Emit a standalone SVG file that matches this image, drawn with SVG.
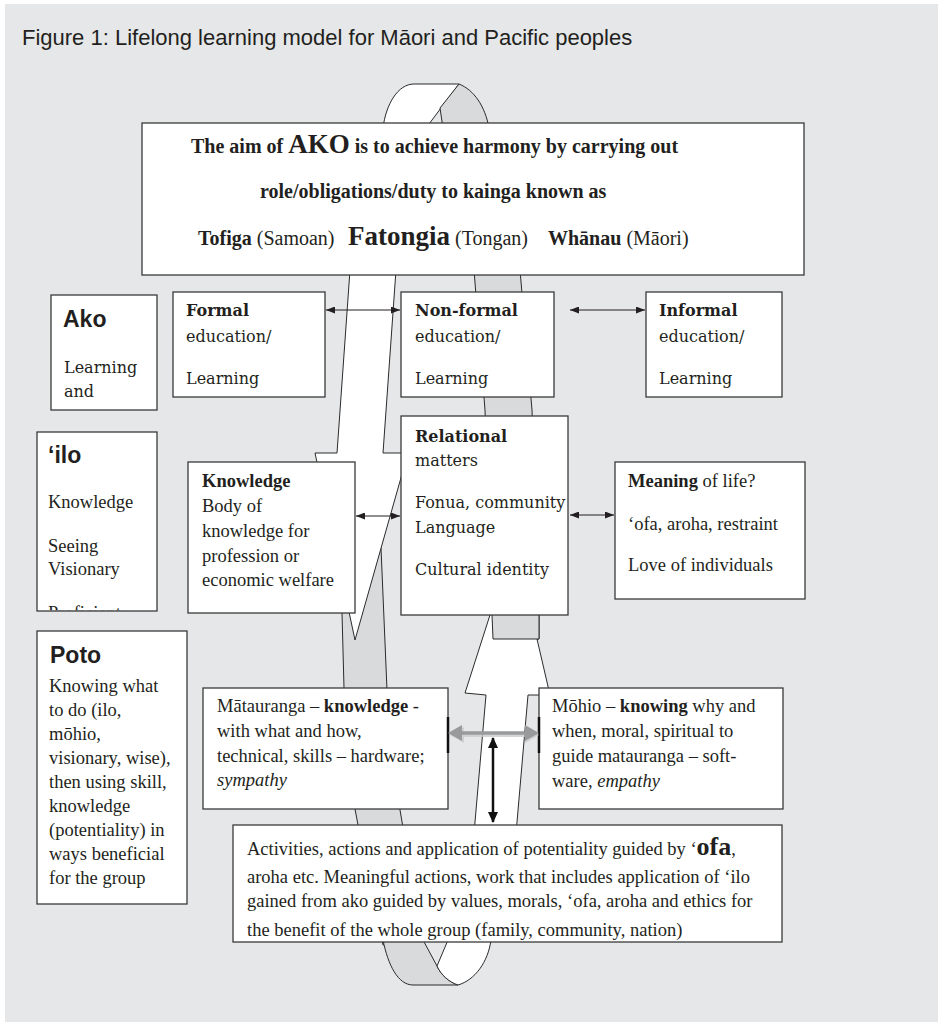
<svg xmlns="http://www.w3.org/2000/svg" width="944" height="1026" viewBox="0 0 944 1026">
<defs>
<style>
.bg{fill:#e6e7e8}
.box{fill:#fff;stroke:#3a3a3a;stroke-width:1.3}
.rw{fill:#fff;stroke:#2b2b2b;stroke-width:1}
.rg{fill:#d9dadc;stroke:#2b2b2b;stroke-width:1}
.t{font-family:"Liberation Serif","Times New Roman",serif;font-size:18.5px;fill:#231f20}
.tb{font-family:"Liberation Serif","Times New Roman",serif;font-weight:bold;font-size:20px;fill:#231f20}
.c{font-family:"DejaVu Serif",serif;font-size:16px;fill:#231f20}
.s{font-family:"Liberation Sans",Arial,sans-serif;font-weight:bold;font-size:23px;fill:#231f20}
.b{font-weight:bold}
.i{font-style:italic}
.con{stroke:#231f20;stroke-width:1.2;fill:none}
</style>
<marker id="ah" viewBox="0 0 9 7" refX="9" refY="3.5" markerWidth="9" markerHeight="7" markerUnits="userSpaceOnUse" orient="auto-start-reverse"><path d="M0,0 L9,3.5 L0,7 Z" fill="#231f20"/></marker>
<marker id="ahb" viewBox="0 0 11 10" refX="10" refY="5" markerWidth="11" markerHeight="10" markerUnits="userSpaceOnUse" orient="auto-start-reverse"><path d="M0,0 L11,5 L0,10 Z" fill="#111"/></marker>
<clipPath id="actclip"><rect x="233" y="825" width="549" height="117"/></clipPath>
<clipPath id="iloclip"><rect x="37" y="432" width="120" height="178.3"/></clipPath>
</defs>

<rect class="bg" x="5" y="4" width="933" height="1018"/>
<text x="22" y="45" font-family="'Liberation Sans',Arial,sans-serif" font-size="22" fill="#231f20">Figure 1: Lifelong learning model for Māori and Pacific peoples</text>

<g id="ribbon">
<path class="rw" d="M383,128 C386,104 398,84 414,84 L459,84 L426,128 Z"/>
<path class="rg" d="M459,84 C474,90 485,106 489,128 L443,128 L440,108 Z"/>
<path class="rg" d="M474,270 L520,270 L532,410 L539,615 L539,639 L493,639 L492,615 L485,410 Z"/>
<path class="rg" d="M338,548 L381,548 L387,690 L400,810 L423,945 L383,945 L358,825 L355,809 L344,688 L342,613 Z"/>
<path class="rw" d="M350,270 L337,453 L315,453 L355,640 L408,453 L383,453 L396,270 Z"/>
<path class="rw" d="M514,540 L465,693 L486,695 L475,822 L466,930 L506,930 L517,822 L528,695 L550,695 Z"/>
<path class="rg" d="M497,560 L539,560 L539,639 L493,639 L492,615 Z" style="stroke:none"/>
<path class="con" style="stroke:#2b2b2b;stroke-width:1" d="M539,600 L539,639 L493,639 L492,615"/>
<path class="rg" d="M383,940 C388,965 398,985 413,985 L458,985 C449,982 441,975 437,966 L423,940 Z"/>
<path class="rw" d="M448,940 L437,966 C441,975 449,982 458,985 C475,980 488,962 491,940 Z"/>
</g>

<g id="top">
<rect class="box" x="142" y="123" width="662" height="152"/>
<text class="tb" x="191" y="153">The aim of <tspan font-size="27">AKO</tspan> is to achieve harmony by carrying out</text>
<text class="tb" x="260" y="198">role/obligations/duty to kainga known as</text>
<text class="tb" y="245"><tspan x="198">Tofiga</tspan><tspan font-weight="normal"> (Samoan)</tspan><tspan x="348" font-size="27">Fatongia</tspan><tspan font-weight="normal"> (Tongan)</tspan><tspan x="548">Whānau</tspan><tspan font-weight="normal"> (Māori)</tspan></text>
</g>

<g id="ako">
<rect class="box" x="51" y="295" width="106" height="115"/>
<text class="s" x="63" y="327">Ako</text>
<text class="c" x="64" y="373">Learning</text>
<text class="c" x="64" y="397">and</text>
</g>

<g id="formal">
<rect class="box" x="173" y="292" width="152" height="105"/>
<text class="c b" x="186" y="316">Formal</text>
<text class="c" x="186" y="342">education/</text>
<text class="c" x="186" y="384">Learning</text>
</g>

<g id="nonformal">
<rect class="box" x="401" y="292" width="153" height="105"/>
<text class="c b" x="415" y="316">Non-formal</text>
<text class="c" x="415" y="342">education/</text>
<text class="c" x="415" y="384">Learning</text>
</g>

<g id="informal">
<rect class="box" x="646" y="292" width="136" height="105"/>
<text class="c b" x="659" y="316">Informal</text>
<text class="c" x="659" y="342">education/</text>
<text class="c" x="659" y="384">Learning</text>
</g>

<g id="ilo">
<rect class="box" x="37" y="432" width="120" height="179"/>
<text class="s" x="48" y="463">‘ilo</text>
<text class="t" x="48" y="508">Knowledge</text>
<text class="t" x="48" y="552">Seeing</text>
<text class="t" x="48" y="575">Visionary</text>
<text class="t" x="48" y="619" clip-path="url(#iloclip)">Proficient</text>
</g>

<g id="knowledge">
<rect class="box" x="188" y="462" width="167" height="151"/>
<text class="t b" x="202" y="487">Knowledge</text>
<text class="t" x="202" y="512">Body of</text>
<text class="t" x="202" y="537">knowledge for</text>
<text class="t" x="202" y="562">profession or</text>
<text class="t" x="202" y="586">economic welfare</text>
</g>

<g id="relational">
<rect class="box" x="401" y="416" width="167" height="199"/>
<text class="c b" x="415" y="442">Relational</text>
<text class="c" x="415" y="466">matters</text>
<text class="c" x="415" y="508">Fonua, community</text>
<text class="c" x="415" y="533">Language</text>
<text class="c" x="415" y="575">Cultural identity</text>
</g>

<g id="meaning">
<rect class="box" x="615" y="462" width="190" height="137"/>
<text class="t" x="628" y="487"><tspan class="b">Meaning</tspan> of life?</text>
<text class="t" x="628" y="530">‘ofa, aroha, restraint</text>
<text class="t" x="628" y="571">Love of individuals</text>
</g>

<g id="poto">
<rect class="box" x="37" y="631" width="150" height="273"/>
<text class="s" x="50" y="663">Poto</text>
<text class="t" x="49" y="692">Knowing what</text>
<text class="t" x="49" y="716">to do (ilo,</text>
<text class="t" x="49" y="740">mōhio,</text>
<text class="t" x="49" y="764">visionary, wise),</text>
<text class="t" x="49" y="788">then using skill,</text>
<text class="t" x="49" y="812">knowledge</text>
<text class="t" x="49" y="836">(potentiality) in</text>
<text class="t" x="49" y="860">ways beneficial</text>
<text class="t" x="49" y="884">for the group</text>
</g>

<g id="matauranga">
<rect class="box" x="203" y="688" width="245" height="121"/>
<text class="t" x="217" y="712">Mātauranga – <tspan class="b">knowledge</tspan> -</text>
<text class="t" x="217" y="737">with what and how,</text>
<text class="t" x="217" y="762">technical, skills – hardware;</text>
<text class="t i" x="217" y="786">sympathy</text>
<line x1="448" y1="717" x2="448" y2="753" stroke="#111" stroke-width="2.5"/>
</g>

<g id="mohio">
<rect class="box" x="539" y="688" width="244" height="121"/>
<text class="t" x="552" y="712">Mōhio – <tspan class="b">knowing</tspan> why and</text>
<text class="t" x="552" y="737">when, moral, spiritual to</text>
<text class="t" x="552" y="762">guide matauranga – soft-</text>
<text class="t" x="552" y="787">ware, <tspan class="i">empathy</tspan></text>
<line x1="539" y1="717" x2="539" y2="753" stroke="#111" stroke-width="2.5"/>
</g>

<g id="activities">
<rect class="box" x="233" y="825" width="549" height="117"/>
<g clip-path="url(#actclip)">
<text class="t" x="247" y="855">Activities, actions and application of potentiality guided by ‘<tspan class="b" font-size="26">ofa</tspan>,</text>
<text class="t" x="247" y="883">aroha etc. Meaningful actions, work that includes application of ‘ilo</text>
<text class="t" x="247" y="907">gained from ako guided by values, morals, ‘ofa, aroha and ethics for</text>
<text class="t" x="247" y="936">the benefit of the whole group (family, community, nation)</text>
</g>
</g>

<g id="connectors">
<path class="con" d="M326,310 H400" marker-start="url(#ah)" marker-end="url(#ah)"/>
<path class="con" d="M570,310 H645" marker-start="url(#ah)" marker-end="url(#ah)"/>
<path class="con" d="M356,516 H400" marker-start="url(#ah)" marker-end="url(#ah)"/>
<path class="con" d="M570,515 H614" marker-start="url(#ah)" marker-end="url(#ah)"/>
<path d="M450,735 L464,727 L464,733 L525,733 L525,727 L539,735 L525,743 L525,737 L464,737 L464,743 Z" fill="#c9cacc" opacity="0.8"/>
<path d="M448,733 L462,725 L462,731.2 L525,731.2 L525,725 L539,733 L525,741 L525,734.8 L462,734.8 L462,741 Z" fill="#999a9c"/>
<line x1="493" y1="738" x2="493" y2="822" stroke="#111" stroke-width="2.5" marker-start="url(#ahb)" marker-end="url(#ahb)"/>
</g>
</svg>
